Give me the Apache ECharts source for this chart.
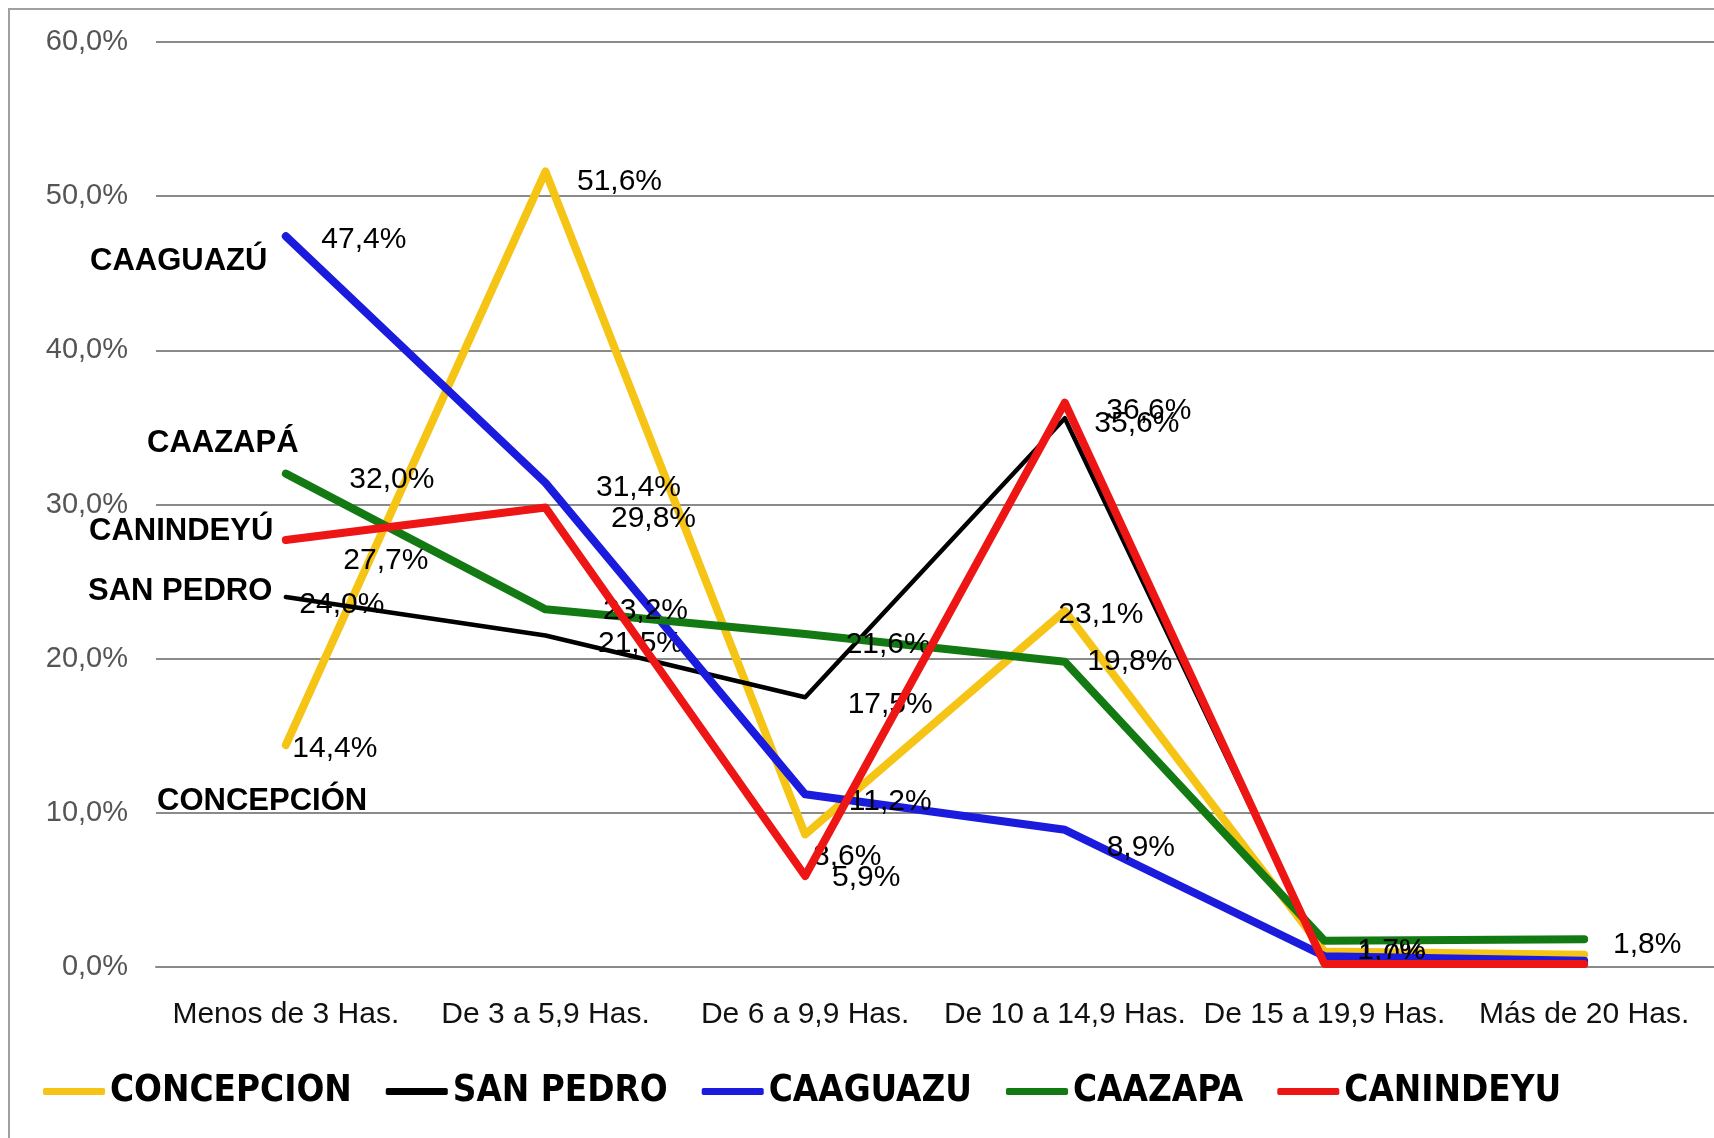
<!DOCTYPE html>
<html>
<head>
<meta charset="utf-8">
<script src="https://cdn.jsdelivr.net/npm/echarts@6/dist/echarts.min.js"></script>
<style>
html,body{margin:0;padding:0;background:#fff;}
#chart{width:1714px;height:1138px;}
</style>
</head>
<body>
<div id="chart"></div>
<script>
// ---- data ----
const categories = ["Menos de 3 Has.", "De 3 a 5,9 Has.", "De 6 a 9,9 Has.", "De 10 a 14,9 Has.", "De 15 a 19,9 Has.", "Más de 20 Has."];
const seriesNames = ["CONCEPCION", "SAN PEDRO", "CAAGUAZU", "CAAZAPA", "CANINDEYU"];
const concepcion = [14.4, 51.6, 8.6, 23.1, 1.0, 0.8];
const sanPedro   = [24.0, 21.5, 17.5, 35.6, 0.3, 0.3];
const caaguazu   = [47.4, 31.4, 11.2, 8.9, 0.7, 0.4];
const caazapa    = [32.0, 23.2, 21.6, 19.8, 1.7, 1.8];
const canindeyu  = [27.7, 29.8, 5.9, 36.6, 0.2, 0.2];
const yMin = 0, yMax = 60, yStep = 10;
const sideLabels = ["CAAGUAZÚ", "CAAZAPÁ", "CANINDEYÚ", "SAN PEDRO", "CONCEPCIÓN"];

// ---- styling (label offsets relative to points; null = no label) ----
const labelOffsets = [
  [[49,4],[74,10],[42,22],[36,4],[68,3],null],
  [[56,8],[95,8],[85,8],[72,6],null,null],
  [[78,3],[93,5],[85,7],[76,18],null,null],
  [[106,6],[100,1],[83,11],[65,0],[67,10],[63,5]],
  [[100,21],[108,11],[61,2],[84,8],null,null]
];
const colors = ["#F6C414", "#000000", "#1B1BDD", "#137A13", "#EE1515"];
const widths = [8, 4.5, 8, 8, 8];
const sidePos = [[90,261],[147,443],[89,531],[88,591],[157,801]];

const allData = [concepcion, sanPedro, caaguazu, caazapa, canindeyu];
const fmt = v => v.toFixed(1).replace('.', ',') + '%';

const series = allData.map((arr, si) => ({
  name: seriesNames[si],
  type: 'line',
  symbol: 'circle',
  symbolSize: 0.1,
  showSymbol: true,
  itemStyle: {color: colors[si]},
  lineStyle: {color: colors[si], width: widths[si], cap: 'round', join: 'round'},
  emphasis: {disabled: true},
  z: 2 + si,
  data: arr.map((v, i) => {
    const off = labelOffsets[si][i];
    return {
      value: v,
      label: off ? {show: true, position: 'inside', offset: off,
        formatter: p => fmt(p.value), color: '#000',
        fontFamily: 'Liberation Sans, Arial, sans-serif', fontSize: 30} : {show: false}
    };
  })
}));

const chart = echarts.init(document.getElementById('chart'), null, {renderer: 'canvas'});
chart.setOption({
  animation: false,
  backgroundColor: '#ffffff',
  grid: {left: 156, right: 0, top: 42, bottom: 171},
  xAxis: {
    type: 'category',
    data: categories,
    boundaryGap: true,
    axisLine: {show: true, lineStyle: {color: '#8a8a8a', width: 2}},
    axisTick: {show: false},
    axisLabel: {interval: 0, margin: 33, color: '#111', fontSize: 30,
      fontFamily: 'Liberation Sans, Arial, sans-serif'}
  },
  yAxis: {
    type: 'value',
    min: yMin, max: yMax, interval: yStep,
    axisLine: {show: false},
    axisTick: {show: false},
    splitLine: {lineStyle: {color: '#8a8a8a', width: 2}},
    axisLabel: {margin: 28, color: '#555', fontSize: 29,
      fontFamily: 'Liberation Sans, Arial, sans-serif',
      formatter: v => v.toFixed(1).replace('.', ',') + '%'}
  },
  legend: {
    left: 38, top: 1068,
    itemWidth: 62, itemHeight: 7, itemGap: 34,
    icon: 'roundRect',
    data: seriesNames,
    textStyle: {color: '#000', fontSize: 36.5, fontWeight: 'bold',
      fontFamily: "'DejaVu Sans Condensed', 'Liberation Sans Narrow', sans-serif"}
  },
  graphic: [
    {type: 'rect', shape: {x: 9, y: 9, width: 1800, height: 1300},
      style: {fill: 'none', stroke: '#a0a0a0', lineWidth: 2}, z: 0, silent: true}
  ].concat(sideLabels.map((t, i) => ({
    type: 'text', z: 100, silent: true,
    style: {x: sidePos[i][0], y: sidePos[i][1], text: t, fill: '#000',
      font: 'bold 31px "Liberation Sans", Arial, sans-serif', textVerticalAlign: 'middle'}
  }))),
  series: series
});
</script>
</body>
</html>
